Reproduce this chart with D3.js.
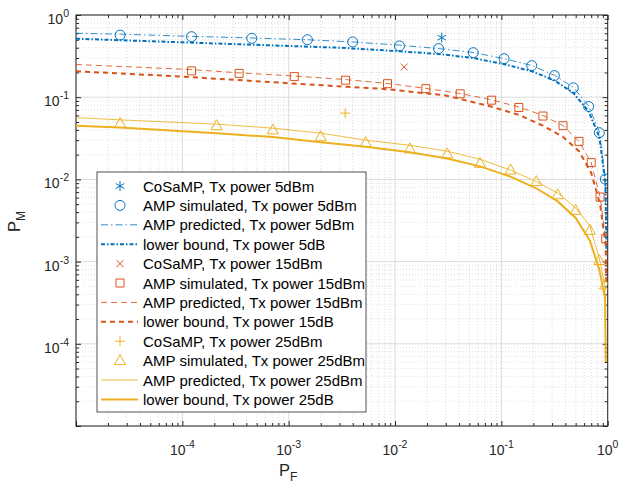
<!DOCTYPE html>
<html>
<head>
<meta charset="utf-8">
<script src="https://cdn.jsdelivr.net/npm/d3@7"></script>
<style>
  body { margin: 0; background: #fff; }
  svg { font-family: "Liberation Sans", Arial, sans-serif; }
</style>
</head>
<body>
<svg id="chart" width="620" height="485"></svg>
<script>
// tick exponents shown on the axes
const xTickExp = [-4, -3, -2, -1, 0];
const yTickExp = [-4, -3, -2, -1, 0];

// [P_F, P_M] pairs
const cosamp5 = [[0.0275, 0.53]];
const amp5Sim = [[2.6e-5, 0.57], [1.22e-4, 0.545], [4.5e-4, 0.52], [1.5e-3, 0.50], [4e-3, 0.47],
  [0.011, 0.42], [0.0257, 0.39], [0.0544, 0.348], [0.106, 0.294], [0.193, 0.242], [0.315, 0.183],
  [0.475, 0.13], [0.662, 0.077], [0.834, 0.037], [0.95, 0.0101]];
const amp5Pred = [[1e-5, 0.60], [2.6e-5, 0.585], [1.2e-4, 0.55], [4.5e-4, 0.525], [1.5e-3, 0.50],
  [4e-3, 0.47], [0.011, 0.43], [0.026, 0.39], [0.054, 0.35], [0.106, 0.295], [0.193, 0.243],
  [0.315, 0.185], [0.475, 0.132], [0.662, 0.078], [0.834, 0.038], [0.95, 0.0105], [0.975, 0.0015]];
const lower5 = [[1e-5, 0.515], [1e-4, 0.465], [1e-3, 0.42], [3e-3, 0.40], [0.01, 0.365],
  [0.026, 0.335], [0.054, 0.30], [0.106, 0.252], [0.193, 0.207], [0.315, 0.16], [0.475, 0.113],
  [0.662, 0.067], [0.834, 0.033], [0.95, 0.0092], [0.975, 0.0013]];

const cosamp15 = [[0.0122, 0.233]];
const amp15Sim = [[1.22e-4, 0.209], [3.42e-4, 0.195], [1.13e-3, 0.178], [3.43e-3, 0.161],
  [8.5e-3, 0.146], [0.0195, 0.127], [0.041, 0.11], [0.081, 0.092], [0.146, 0.075], [0.246, 0.059],
  [0.38, 0.045], [0.537, 0.029], [0.70, 0.016], [0.847, 0.0061], [0.957, 0.0019]];
const amp15Pred = [[1e-5, 0.25], [1.2e-4, 0.217], [3.4e-4, 0.198], [1.13e-3, 0.181], [3.4e-3, 0.164],
  [8.5e-3, 0.147], [0.0195, 0.128], [0.041, 0.111], [0.081, 0.093], [0.146, 0.076], [0.246, 0.06],
  [0.38, 0.045], [0.537, 0.029], [0.70, 0.016], [0.847, 0.0062], [0.957, 0.0019], [0.967, 6e-4]];
const lower15 = [[1e-5, 0.207], [1e-4, 0.178], [1e-3, 0.148], [8.5e-3, 0.125], [0.03, 0.105],
  [0.08, 0.077], [0.146, 0.061], [0.246, 0.045], [0.38, 0.033], [0.537, 0.022], [0.70, 0.012],
  [0.847, 0.005], [0.957, 0.0016], [0.967, 5e-4]];

const cosamp25 = [[3.4e-3, 0.064]];
const amp25Sim = [[2.6e-5, 0.048], [2.1e-4, 0.045], [7.1e-4, 0.04], [2.0e-3, 0.033], [5.3e-3, 0.028],
  [0.0138, 0.0235], [0.031, 0.0204], [0.063, 0.0157], [0.122, 0.013], [0.213, 0.0094],
  [0.339, 0.0065], [0.5, 0.0042], [0.68, 0.0024], [0.834, 0.00103], [0.944, 5.2e-4]];
const amp25Pred = [[1e-5, 0.0565], [2.6e-5, 0.053], [2.1e-4, 0.047], [7.1e-4, 0.042], [2.0e-3, 0.0365],
  [5.3e-3, 0.030], [0.0138, 0.026], [0.031, 0.022], [0.063, 0.0176], [0.122, 0.013], [0.213, 0.0094],
  [0.339, 0.0068], [0.5, 0.0045], [0.68, 0.0027], [0.834, 0.0011], [0.944, 5e-4], [0.96, 6e-5]];
const lower25 = [[1e-5, 0.045], [2.6e-5, 0.0427], [2.1e-4, 0.0364], [7.1e-4, 0.0327], [2.0e-3, 0.0284],
  [5.3e-3, 0.025], [0.0138, 0.0214], [0.031, 0.018], [0.063, 0.0144], [0.122, 0.0108], [0.213, 0.0078],
  [0.339, 0.0054], [0.5, 0.0034], [0.68, 0.0018], [0.834, 8e-4], [0.944, 3.6e-4], [0.96, 6e-5]];

const legendLabels = [
  "CoSaMP, Tx power 5dBm", "AMP simulated, Tx power 5dBm", "AMP predicted, Tx power 5dBm", "lower bound, Tx power 5dB",
  "CoSaMP, Tx power 15dBm", "AMP simulated, Tx power 15dBm", "AMP predicted, Tx power 15dBm", "lower bound, Tx power 15dB",
  "CoSaMP, Tx power 25dBm", "AMP simulated, Tx power 25dBm", "AMP predicted, Tx power 25dBm", "lower bound, Tx power 25dB"
];

const blue = "#0072BD", red = "#D95319", yellow = "#EDB120";

const series = [
  { data: cosamp5, color: blue, marker: "star" },
  { data: amp5Sim, color: blue, marker: "circle" },
  { data: amp5Pred, color: blue, dash: "7,3,1.5,3", width: 1, opacity: 0.8 },
  { data: lower5, color: blue, dash: "4,2,1.5,2", width: 2 },
  { data: cosamp15, color: red, marker: "x" },
  { data: amp15Sim, color: red, marker: "square" },
  { data: amp15Pred, color: red, dash: "6,4", width: 1, opacity: 0.85 },
  { data: lower15, color: red, dash: "5,4", width: 2 },
  { data: cosamp25, color: yellow, marker: "plus" },
  { data: amp25Sim, color: yellow, marker: "triangle" },
  { data: amp25Pred, color: yellow, width: 1, opacity: 0.85 },
  { data: lower25, color: yellow, width: 2 }
];

const svg = d3.select("#chart");
const pLeft = 76, pRight = 607.7, pTop = 15, pBottom = 426;

const x = d3.scaleLog().domain([1e-5, 1]).range([pLeft, pRight]);
const y = d3.scaleLog().domain([1e-5, 1]).range([pBottom, pTop]);

// minor and major tick positions
const majors = d3.range(-5, 1).map(e => Math.pow(10, e));
const minors = [];
majors.slice(0, -1).forEach(d => { for (let k = 2; k < 10; k++) minors.push(d * k); });

// grid
const grid = svg.append("g");
grid.selectAll(".mx").data(minors).enter().append("line")
  .attr("x1", d => x(d)).attr("x2", d => x(d)).attr("y1", pTop).attr("y2", pBottom)
  .attr("stroke", "#c9c9c9").attr("stroke-width", 0.6).attr("stroke-dasharray", "1,2");
grid.selectAll(".my").data(minors).enter().append("line")
  .attr("y1", d => y(d)).attr("y2", d => y(d)).attr("x1", pLeft).attr("x2", pRight)
  .attr("stroke", "#c9c9c9").attr("stroke-width", 0.6).attr("stroke-dasharray", "1,2");
grid.selectAll(".Mx").data(majors).enter().append("line")
  .attr("x1", d => x(d)).attr("x2", d => x(d)).attr("y1", pTop).attr("y2", pBottom)
  .attr("stroke", "#dcdcdc").attr("stroke-width", 1);
grid.selectAll(".My").data(majors).enter().append("line")
  .attr("y1", d => y(d)).attr("y2", d => y(d)).attr("x1", pLeft).attr("x2", pRight)
  .attr("stroke", "#dcdcdc").attr("stroke-width", 1);

// axes with inward ticks on all four sides
function addAxis(axisFn, scale, transform, len, vals) {
  svg.append("g").attr("transform", transform)
    .call(axisFn(scale).tickValues(vals).tickSize(len).tickFormat(""))
    .call(g => g.select(".domain").remove())
    .selectAll("line").attr("stroke", "#262626");
}
[[majors, 5], [minors, 3]].forEach(([vals, len]) => {
  addAxis(d3.axisBottom, x, `translate(0,${pBottom})`, -len, vals);
  addAxis(d3.axisTop, x, `translate(0,${pTop})`, -len, vals);
  addAxis(d3.axisLeft, y, `translate(${pLeft},0)`, -len, vals);
  addAxis(d3.axisRight, y, `translate(${pRight},0)`, -len, vals);
});
svg.append("rect").attr("x", pLeft).attr("y", pTop).attr("width", pRight - pLeft).attr("height", pBottom - pTop)
  .attr("fill", "none").attr("stroke", "#262626").attr("stroke-width", 1);

// tick labels
const xl = svg.append("g").attr("fill", "#262626").attr("font-size", 14);
xTickExp.forEach(e => {
  const t = xl.append("text").attr("x", x(Math.pow(10, e))).attr("y", 455).attr("text-anchor", "middle");
  t.append("tspan").text("10");
  t.append("tspan").attr("dy", -7).attr("font-size", 10.5).text(e === 0 ? "0" : "-" + Math.abs(e));
});
yTickExp.forEach(e => {
  const t = xl.append("text").attr("x", 69).attr("y", y(Math.pow(10, e)) + 9).attr("text-anchor", "end");
  t.append("tspan").text("10");
  t.append("tspan").attr("dy", -7).attr("font-size", 10.5).text(e === 0 ? "0" : "-" + Math.abs(e));
});

// axis labels
const xlab = svg.append("text").attr("x", 279).attr("y", 476).attr("font-size", 16.5).attr("fill", "#262626");
xlab.append("tspan").text("P");
xlab.append("tspan").attr("dy", 5).attr("font-size", 12).text("F");
const ylab = svg.append("text").attr("transform", "translate(20,232) rotate(-90)")
  .attr("font-size", 16.5).attr("fill", "#262626");
ylab.append("tspan").text("P");
ylab.append("tspan").attr("dy", 5).attr("font-size", 12).text("M");

// marker shapes
function markerPath(shape) {
  switch (shape) {
    case "circle": return "M5,0A5,5 0 1,1 -5,0A5,5 0 1,1 5,0Z";
    case "square": return "M-4,-4H4V4H-4Z";
    case "triangle": return "M0,-6L5.5,4L-5.5,4Z";
    case "x": return "M-3.5,-3.5L3.5,3.5M-3.5,3.5L3.5,-3.5";
    case "plus": return "M-5,0H5M0,-5V5";
    case "star": return "M0,-5V5M-4.3,-2.5L4.3,2.5M-4.3,2.5L4.3,-2.5";
  }
}

svg.append("clipPath").attr("id", "clip").append("rect")
  .attr("x", pLeft).attr("y", pTop).attr("width", pRight - pLeft).attr("height", pBottom - pTop);
const plot = svg.append("g").attr("clip-path", "url(#clip)");
const line = d3.line().x(d => x(d[0])).y(d => y(d[1]));

series.forEach(s => {
  if (s.marker) {
    plot.append("g").selectAll("path").data(s.data).enter().append("path")
      .attr("transform", d => `translate(${x(d[0])},${y(d[1])})`)
      .attr("d", markerPath(s.marker))
      .attr("fill", "none").attr("stroke", s.color).attr("stroke-width", 1);
  } else {
    plot.append("path").datum(s.data).attr("d", line)
      .attr("fill", "none").attr("stroke", s.color).attr("stroke-width", s.width)
      .attr("stroke-opacity", s.opacity || 1)
      .attr("stroke-dasharray", s.dash || null);
  }
});

// legend
const lg = svg.append("g");
lg.append("rect").attr("x", 97).attr("y", 172).attr("width", 269).attr("height", 240)
  .attr("fill", "#fff").attr("stroke", "#262626").attr("stroke-width", 0.8);
series.forEach((s, i) => {
  const ry = 186 + i * 19.4;
  if (s.marker) {
    lg.append("path").attr("transform", `translate(120,${ry})`).attr("d", markerPath(s.marker))
      .attr("fill", "none").attr("stroke", s.color).attr("stroke-width", 1);
  } else {
    lg.append("line").attr("x1", 101).attr("x2", 138).attr("y1", ry).attr("y2", ry)
      .attr("stroke", s.color).attr("stroke-width", s.width).attr("stroke-opacity", s.opacity || 1)
      .attr("stroke-dasharray", s.dash || null);
  }
  lg.append("text").attr("x", 143).attr("y", ry + 5.5).attr("font-size", 15).attr("fill", "#000")
    .text(legendLabels[i]);
});
</script>
</body>
</html>
